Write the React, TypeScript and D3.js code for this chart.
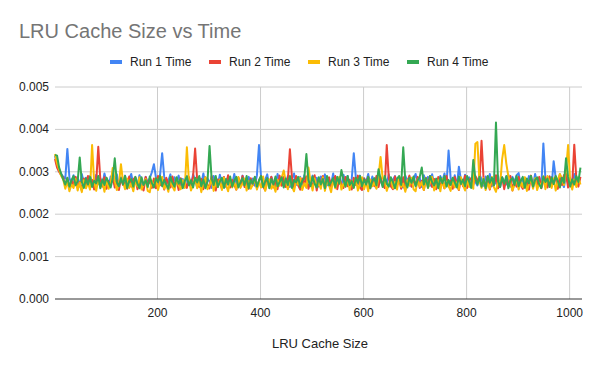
import React from 'react';
import * as d3 from 'd3';

// LRU cache size samples (every 4th size), times stored in microseconds
const cacheSizes = d3.range(1, 1025, 4);

const run1Us = [
  3380, 3150, 3020, 2950, 2880, 2840, 3540, 2860, 2700, 2920, 2760, 2880, 2650, 2950, 2740, 2860,
  2690, 2900, 2770, 2640, 2930, 2720, 2850, 2680, 2960, 2750, 2630, 2890, 2800, 2700, 2940, 2660,
  2870, 2740, 2910, 2620, 2830, 2950, 2690, 2800, 2660, 2920, 2770, 2640, 2880, 2730, 2850, 2990,
  3180, 2860, 2700, 2930, 3440, 2880, 2680, 2790, 2940, 2650, 2870, 2760, 2910, 2690, 2830, 2640,
  2900, 2750, 2680, 2940, 2810, 2630, 2870, 2720, 2960, 2690, 2840, 2770, 2620, 2900, 2750, 2680,
  2930, 2710, 2860, 2640, 2900, 2780, 2690, 2950, 2730, 2850, 2660, 2910, 2760, 2640, 2880, 2720,
  2840, 2670, 2920, 3630, 2860, 2700, 2810, 2940, 2650, 2880, 2730, 2620, 2950, 2760, 2690, 2870,
  2710, 2900, 2640, 2830, 2960, 2690, 2770, 2880, 2630, 2920, 2750, 2840, 2680, 2910, 2720, 2860,
  2650, 2890, 2760, 2940, 2680, 2820, 2710, 2960, 2640, 2870, 2780, 2690, 2930, 2740, 2900, 2660,
  2830, 3440, 2860, 2700, 2910, 2640, 2850, 2760, 2950, 2680, 2890, 2730, 2620, 2920, 2780, 2690,
  2870, 2720, 2940, 2660, 2810, 2900, 2690, 2850, 2740, 2630, 2910, 2770, 2880, 2650, 2830, 2950,
  2700, 2860, 2640, 2920, 2760, 2880, 2670, 2940, 2730, 2820, 2650, 2900, 2780, 2960, 2690, 3500,
  2850, 2700, 2920, 2640, 3120, 2810, 2690, 2930, 2750, 2870, 2630, 2900, 2760, 2680, 2940, 2820,
  2670, 2890, 2740, 2950, 2660, 2830, 2720, 2910, 2640, 2860, 2780, 2700, 2930, 2650, 2880, 2760,
  2920, 2970, 2690, 2840, 2750, 2630, 2900, 2780, 2680, 2950, 2720, 2860, 2640, 3670, 2830, 2710,
  2890, 2660, 3250, 2850, 2700, 2940, 2770, 2640, 2910, 2730, 2860, 2680, 2950, 2760, 2840, 2800,
];

const run2Us = [
  3300, 3100, 3000, 2920, 2860, 2680, 2850, 2600, 2790, 2700, 2880, 2620, 2760, 2560, 2840, 2670,
  2900, 2640, 2810, 2580, 2760, 3590, 2820, 2650, 2870, 2600, 2780, 2690, 2910, 2630, 2800, 2570,
  2850, 2690, 2760, 2600, 2890, 2650, 2820, 2870, 2590, 2740, 2660, 2560, 2880, 2700, 2790, 2620,
  2840, 2610, 2900, 2680, 2770, 2580, 2860, 2720, 2630, 2890, 2660, 2800, 2570, 2850, 2690, 2760,
  2620, 2880, 2700, 2880, 3550, 2800, 2640, 2830, 2590, 2870, 2700, 2610, 2900, 2680, 2560, 2820,
  2750, 2600, 2880, 2660, 2920, 2630, 2810, 2700, 2580, 2860, 2690, 2900, 2640, 2780, 2600, 2850,
  2680, 2870, 2610, 2790, 2900, 2650, 2570, 2840, 2720, 2880, 2630, 2760, 2590, 2910, 2670, 2870,
  2640, 2800, 3530, 2860, 2620, 2900, 2680, 2580, 2840, 2710, 2890, 2600, 2770, 2650, 2920, 2560,
  2830, 2680, 2900, 2610, 2790, 2870, 2640, 2760, 2900, 2590, 2850, 2700, 2620, 2880, 2660, 2810,
  2580, 2860, 2690, 2910, 2630, 2570, 2840, 2720, 2880, 2610, 2800, 2660, 2900, 2640, 2880, 2700,
  2620, 3630, 2850, 2660, 2590, 2890, 2700, 2820, 2600, 2870, 2570, 2760, 2910, 2650, 2830, 2680,
  2880, 2620, 2790, 2570, 2860, 2700, 2900, 2640, 2830, 2590, 2880, 2680, 2760, 2610, 2900, 2650,
  2790, 2600, 2880, 2700, 2570, 2850, 2660, 2910, 2620, 2800, 2850, 2690, 2900, 2810, 2780, 3730,
  2820, 2640, 2890, 2580, 2800, 2680, 2920, 2610, 2760, 2870, 2590, 2840, 2660, 2900, 2560, 2790,
  2650, 2880, 2700, 2600, 2860, 2740, 2580, 2910, 2640, 2830, 2690, 2880, 2610, 2790, 2870, 2630,
  2890, 2660, 2810, 2880, 2600, 2850, 2690, 2920, 2950, 2630, 2820, 2700, 3640, 2830, 2650, 2880,
];

const run3Us = [
  3420, 3200, 3050, 2900, 2820, 2600, 2780, 2540, 2700, 2620, 2830, 2560, 2750, 2520, 2800, 2610,
  2740, 2580, 3630, 2760, 2550, 2820, 2640, 2770, 2530, 2850, 2600, 2720, 3090, 2780, 2570, 2690,
  3180, 2760, 2590, 2840, 2620, 2730, 2540, 2810, 2660, 2870, 2580, 2700, 2830, 2550, 2520, 2790,
  2640, 2850, 2570, 2760, 2880, 2600, 2710, 2530, 2820, 2650, 2560, 2840, 2680, 2590, 2800, 2620,
  3580, 2780, 2560, 2700, 2850, 2610, 2790, 2520, 2740, 2870, 2590, 2680, 2830, 2550, 2760, 2640,
  2820, 2570, 2860, 2690, 2540, 2800, 2630, 2750, 2580, 2880, 2620, 2720, 2840, 2560, 2780, 2600,
  2700, 2850, 2580, 2760, 2630, 2890, 2550, 2740, 2820, 2600, 2700, 2530, 2810, 2670, 2860, 3030,
  2760, 2590, 2830, 2650, 2540, 2790, 2700, 2860, 2570, 2730, 2620, 3100, 2780, 2560, 2840, 2640,
  2740, 2600, 2870, 2550, 2800, 2680, 2520, 2830, 2610, 2760, 2880, 2580, 2720, 2650, 2850, 2570,
  2790, 2630, 2840, 2560, 2710, 2870, 2590, 2760, 2540, 2820, 2660, 2750, 2600, 2880, 3350, 2850,
  2780, 2550, 2700, 2840, 2620, 2760, 2580, 2890, 2640, 2720, 2530, 2800, 2670, 2860, 2590, 2540,
  2820, 2650, 2760, 2570, 2850, 2620, 2740, 2880, 2560, 2690, 2800, 2540, 2830, 2610, 2770, 2660,
  2550, 2840, 2630, 2750, 2580, 2870, 2690, 2560, 2810, 2640, 2760, 2600, 3660, 3700, 2780, 2620,
  2850, 2570, 2730, 2600, 2880, 2640, 2530, 2790, 2680, 3300, 3630, 3200, 2900, 2750, 2560, 2690,
  2830, 2580, 2760, 2640, 2870, 2550, 2720, 2810, 2600, 2850, 2570, 2740, 2660, 2890, 2590, 2900,
  2760, 2620, 2840, 2560, 2800, 2950, 2850, 2690, 3030, 3630, 2780, 2580, 2820, 2640, 2870, 2700,
];

const run4Us = [
  3400, 3380, 3100, 2950, 2820, 2700, 2860, 2650, 2800, 2900, 2680, 2780, 3340, 2760, 2620, 2840,
  2700, 2880, 2640, 2790, 2730, 2900, 2610, 2820, 2690, 2860, 2750, 2630, 2840, 3320, 2760, 2660,
  2850, 2700, 2900, 2620, 2780, 2830, 2650, 2880, 2720, 2610, 2870, 2690, 2800, 2640, 2890, 2740,
  2630, 2850, 2760, 2900, 2660, 2810, 2700, 2600, 2880, 2740, 2650, 2870, 2720, 2830, 2610, 2790,
  2890, 2680, 2800, 2630, 2860, 2750, 2900, 2660, 2820, 2610, 2780, 3610, 2840, 2690, 2900, 2640,
  2770, 2860, 2620, 2830, 2700, 2890, 2650, 2790, 2880, 2630, 2750, 2850, 2680, 2900, 2610, 2810,
  2720, 2880, 2650, 2800, 2900, 2640, 2770, 2850, 2610, 2830, 2700, 2890, 2660, 2760, 2870, 2630,
  2840, 2690, 2900, 2620, 2810, 2750, 2880, 2640, 2790, 2860, 3420, 2800, 2660, 2890, 2720, 2630,
  2870, 2700, 2830, 2610, 2900, 2680, 2760, 2850, 2640, 2880, 2720, 3040, 2810, 2650, 2900, 2690,
  2780, 2620, 2860, 2740, 2900, 2660, 2820, 2700, 2880, 2610, 2790, 2850, 2680, 3060, 2830, 2640,
  2900, 2720, 2650, 2870, 2760, 2610, 2840, 2900, 2690, 3580, 2780, 2630, 2860, 2740, 2890, 2660,
  2800, 2880, 3100, 2700, 2850, 2620, 2900, 2760, 2680, 2840, 2610, 2870, 2730, 2900, 2650, 2810,
  2690, 2860, 2750, 2630, 2890, 2710, 2820, 2660, 2900, 2770, 2620, 3280, 2840, 2700, 2880, 2650,
  2830, 2610, 2900, 2740, 2860, 2680, 4160, 2780, 2640, 2870, 2720, 2900, 2610, 2800, 2850, 2690,
  2900, 2660, 2790, 2880, 2620, 2840, 2730, 2900, 2650, 2810, 2870, 2700, 2620, 2890, 2760, 2840,
  2640, 2870, 2710, 2900, 2790, 2630, 2860, 2740, 3320, 2880, 2650, 2820, 2700, 2900, 2760, 3100,
];

const seriesNames = ['Run 1 Time', 'Run 2 Time', 'Run 3 Time', 'Run 4 Time'];
const seriesColors = ['#4285f4', '#ea4335', '#fbbc04', '#34a853'];
const seriesValues = [run1Us, run2Us, run3Us, run4Us];
const yTicks = [0, 1000, 2000, 3000, 4000, 5000];
const xTicks = [200, 400, 600, 800, 1000];

const W = 600;
const H = 371;
const font = 'Arial, "Liberation Sans", sans-serif';

export default function App() {
  const x = d3.scaleLinear().domain([1, 1024]).range([55, 582]);
  const y = d3.scaleLinear().domain([0, 5000]).range([299, 87]);

  const line = d3.line<number>()
    .x((_, i) => x(cacheSizes[i]))
    .y((d) => y(d));

  return (
    <svg width={W} height={H} style={{ position: 'absolute', left: 0, top: 0, background: '#fff' }}>
      <text x={19} y={38} fontFamily={font} fontSize={20} fill="#757575">LRU Cache Size vs Time</text>

      {seriesNames.map((name, i) => (
        <g key={name} transform={`translate(${110 + i * 99},0)`}>
          <rect x={0} y={60} width={12} height={4} fill={seriesColors[i]} />
          <text x={20} y={66} fontFamily={font} fontSize={12} fill="#222">{name}</text>
        </g>
      ))}

      {yTicks.map((t) => (
        <g key={t}>
          {t > 0 && <line x1={55} x2={582} y1={y(t)} y2={y(t)} stroke="#ccc" strokeWidth={1} />}
          <text x={49} y={y(t) + 4} textAnchor="end" fontFamily={font} fontSize={12} fill="#222">
            {(t / 1e6).toFixed(3)}
          </text>
        </g>
      ))}

      {xTicks.map((t) => (
        <g key={t}>
          <line x1={x(t)} x2={x(t)} y1={87} y2={299} stroke="#ccc" strokeWidth={1} />
          <text x={x(t)} y={317} textAnchor="middle" fontFamily={font} fontSize={12} fill="#222">{t}</text>
        </g>
      ))}

      <g fill="none" strokeWidth={2} strokeLinejoin="round">
        {seriesValues.map((vals, i) => (
          <path key={seriesNames[i]} d={line(vals) || ''} stroke={seriesColors[i]} />
        ))}
      </g>

      <line x1={55} x2={582} y1={y(0)} y2={y(0)} stroke="#333" strokeWidth={1} />

      <text x={320} y={348} textAnchor="middle" fontFamily={font} fontSize={13} fill="#222">LRU Cache Size</text>
    </svg>
  );
}
